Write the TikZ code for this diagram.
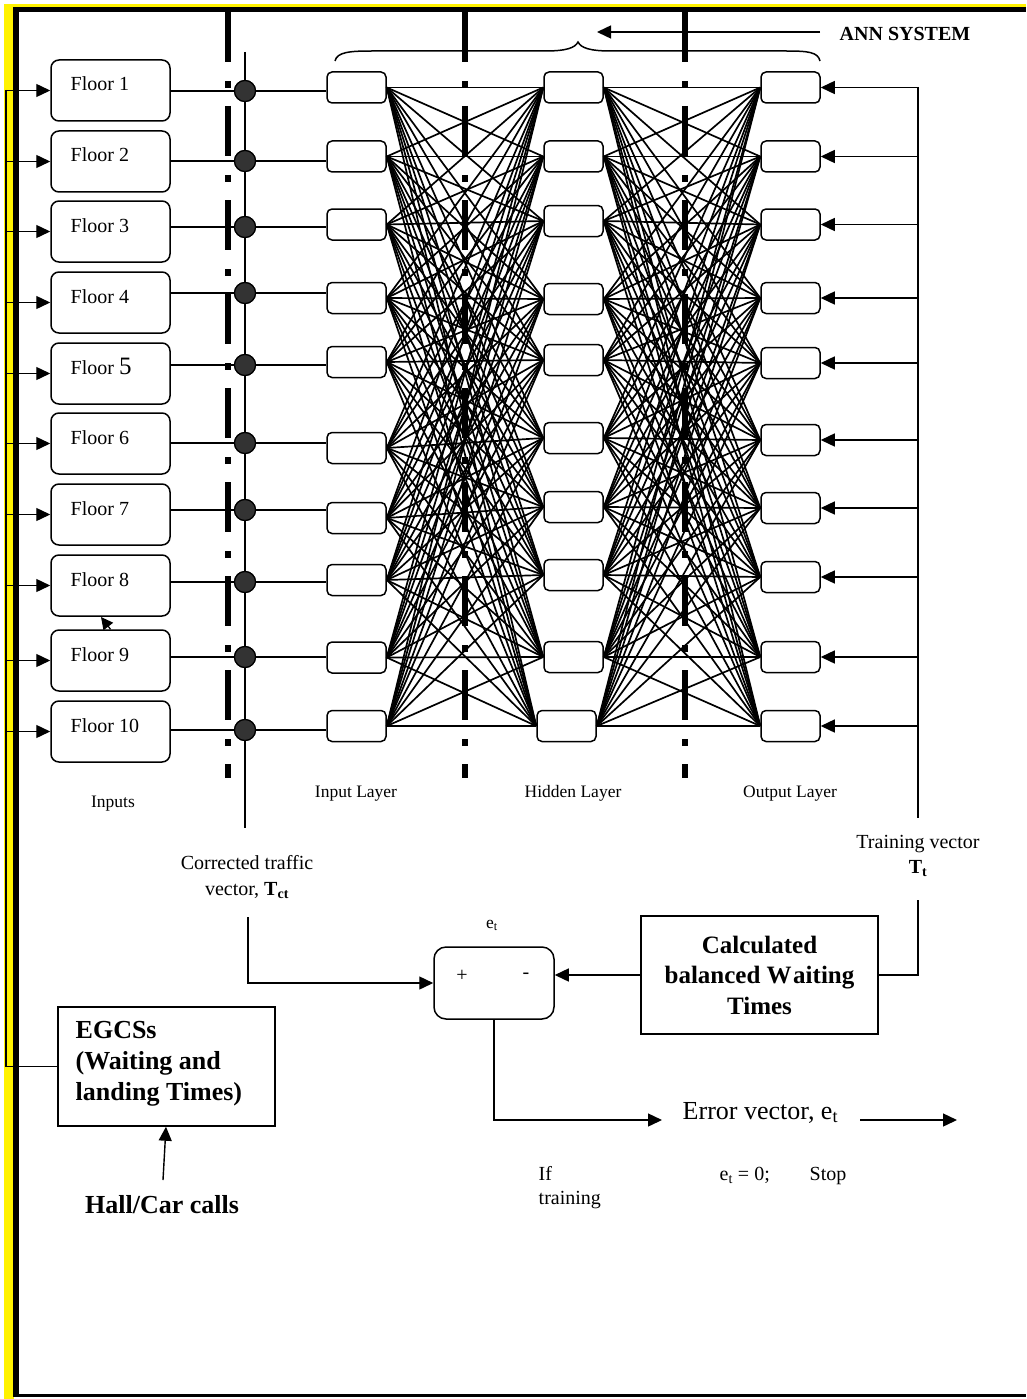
\documentclass[tikz,border=0pt]{standalone}
\usepackage{fontspec}
\setmainfont{Liberation Serif}
\usetikzlibrary{arrows.meta,calc}
\begin{document}
\begin{tikzpicture}[x=1pt,y=-1pt,line width=1.4pt,
  floorbox/.style={draw,rounded corners=8pt,minimum width=119pt,minimum height=61pt,inner sep=0pt,line width=1.5pt},
  neuron/.style={draw,rounded corners=5pt,minimum width=59pt,minimum height=31pt,inner sep=0pt,line width=1.5pt},
  junction/.style={circle,draw,fill=black!80,minimum size=21pt,inner sep=0pt,line width=1.2pt},
  tip/.style={-{Triangle[length=14pt,width=13pt]}},
  dashdot/.style={line width=6pt,dash pattern=on 50pt off 19pt on 7pt off 18pt},
  flabel/.style={anchor=base west,inner sep=0pt,font=\fontsize{20}{24}\selectfont},
  txt/.style={inner sep=0pt,font=\fontsize{20}{26}\selectfont,align=center},
  small/.style={inner sep=0pt,font=\fontsize{17.5}{21}\selectfont,anchor=base},
  boldbig/.style={inner sep=0pt,font=\bfseries\fontsize{25}{30.5}\selectfont},
]
\useasboundingbox (0,0) rectangle (1026,1399);
% frame
\fill[yellow] (4,4) rectangle (14,1399);
\fill[yellow] (4,4) rectangle (1026,7);
\fill[black] (13,7) rectangle (19,1397);
\fill[black] (13,7) rectangle (1026,12);
\fill[black] (13,1394) rectangle (1026,1397);

% dash-dot separators
\foreach \x/\n in {228/a,465/b,685/c}{
  \coordinate (sep\n t) at (\x,12);
  \coordinate (sep\n b) at (\x,778);
  \draw[dashdot] (sep\n t) -- (sep\n b);
}

% floors
\foreach \i/\t in {1/60,2/131,3/201,4/272,5/343,6/413,7/484,8/555,9/630,10/701}{
  \node[floorbox] (fl\i) at (110.5,\t+30.5) {};
}
\foreach \i/\t in {1/60,2/131,3/201,4/272,6/413,7/484,8/555,9/630,10/701}{
  \node[flabel] (flt\i) at (70,\t+31) {Floor \i};
}
\node[flabel] (flt5) at (70,343+31) {Floor {\fontsize{25}{25}\selectfont 5}};

% bus line and junctions
\coordinate (bust) at (245,52);
\coordinate (busb) at (245,828);
\draw[line width=1.5pt] (bust) -- (busb);
\foreach \i/\d in {1/91,2/161,3/227,4/293,5/365,6/443,7/510,8/582,9/657,10/730}{
  \node[junction] (j\i) at (245,\d) {};
}

% neurons
\foreach \i/\y in {1/87.5,2/156.5,3/224.5,4/298,5/362,6/448,7/518,8/580,9/657.5,10/726}{
  \node[neuron,fill=white] (in\i) at (356.5,\y) {};
}
\foreach \i/\x/\y in {1/573.5/87.5,2/573.5/156.5,3/573.5/221,4/573.5/299,5/573.5/360,6/573.5/438,7/573.5/507,8/573.5/575,9/573.5/657,10/566.5/726}{
  \node[neuron,fill=white] (hid\i) at (\x,\y) {};
}
\foreach \i/\y in {1/87.5,2/156.5,3/224.5,4/298,5/363,6/440,7/508,8/577,9/657,10/726}{
  \node[neuron,fill=white] (out\i) at (790.5,\y) {};
}

% full connections
\foreach \i in {1,...,10}{
  \foreach \j in {1,...,10}{
    \draw[line width=1.7pt] (in\i.east) -- (hid\j.west);
    \draw[line width=1.7pt] (hid\i.east) -- (out\j.west);
  }
}

% floor -> junction -> input
\foreach \i in {1,...,10}{
  \draw (fl\i.east |- j\i) -- (j\i.west);
  \draw (j\i.east) -- (j\i -| in\i.west);
}
\foreach \i in {1,...,10}{
  \node[junction] at (j\i) {};
}

% feed line on the left
\coordinate (feedt) at (6,90);
\node[draw,line width=1.5pt,minimum width=217pt,minimum height=119pt,inner sep=0pt] (egcs) at (166.5,1066.5) {};
\node[inner sep=0pt,anchor=north west,font=\bfseries\fontsize{26}{31}\selectfont,align=left] (egcst) at (75,1021) {EGCSs\\(Waiting and\\landing Times)};
\draw (feedt) |- (egcs.west);
\foreach \i in {1,...,10}{
  \draw[tip] (fl\i.west -| feedt) -- (fl\i.west);
}
% small arrow floor 9 -> floor 8
\coordinate (f8arr) at (101,617);
\draw[-{Triangle[length=12pt,width=12pt]},line width=1.3pt] (fl9.north) -- (f8arr);

% Hall/Car calls
\node[inner sep=0pt,anchor=base,font=\bfseries\fontsize{26}{31}\selectfont] (hall) at (162,1213) {Hall/Car calls};
\coordinate (hallt) at (163,1180);
\draw[tip] (hallt) -- (egcs.south -| 166,0);

% brace and ANN system
\coordinate (brl) at (335,61);
\coordinate (brr) at (820,61);
\draw[line width=1.5pt] (brl) .. controls (337,52) and (350,51) .. (372,51) -- (545,51)
  .. controls (566,51) and (575,48) .. (578,42)
  .. controls (581,48) and (590,51) .. (611,51) -- (786,51)
  .. controls (808,51) and (818,52) .. (brr);
\coordinate (anns) at (820,32);
\coordinate (anne) at (597,32);
\draw[tip,line width=1.5pt] (anns) -- (anne);
\node[inner sep=0pt,font=\bfseries\fontsize{20}{24}\selectfont] (ann) at (905,34) {ANN SYSTEM};

% training vector line
\coordinate (trt) at (918,87);
\coordinate (trb) at (918,818);
\draw[line width=2.2pt] (trt) -- (trb);
\foreach \i in {1,...,10}{
  \draw[tip] (out\i.east -| trt) -- (out\i.east);
}
\node[txt,anchor=base] (trv) at (918,848) {Training vector};
\node[txt,anchor=base] (trvt) at (918,873) {\textbf{T}\textsubscript{\textbf{t}}};

% layer labels
\node[small] (linp) at (113,807) {Inputs};
\node[small] (lin) at (356,797) {Input Layer};
\node[small] (lhid) at (573,797) {Hidden Layer};
\node[small] (lout) at (790,797) {Output Layer};

% corrected traffic
\node[txt,anchor=base] (ct1) at (247,869) {Corrected traffic};
\node[txt,anchor=base] (ct2) at (247,895) {vector, \textbf{T}\textsubscript{\textbf{ct}}};

% comparator
\node[draw,line width=1.5pt,rounded corners=12pt,minimum width=120pt,minimum height=72pt,inner sep=0pt] (plus) at (494,983) {};
\node[inner sep=0pt,font=\fontsize{20}{24}\selectfont] (pl) at (462,976) {+};
\node[inner sep=0pt,font=\fontsize{20}{24}\selectfont] (mi) at (526,976) {-};
\node[small] (et) at (492,928) {e\textsubscript{t}};

% calculated balanced waiting times
\node[draw,line width=1.5pt,minimum width=237pt,minimum height=118pt,inner sep=0pt,align=center,boldbig] (calc) at (759.5,975) {Calculated\\balanced W\kern1.5pt aiting\\Times};
\coordinate (tvs) at (918,900);
\draw (tvs) |- (calc.east);
\draw[tip] (calc.west) -- (calc.west -| plus.east);
\coordinate (cts) at (248,917);
\draw[tip] (cts) |- (plus.west);

% error vector
\node[inner sep=0pt,anchor=base west,font=\fontsize{26}{30}\selectfont] (err) at (682,1119) {Error vector, e\textsubscript{t}};
\coordinate (e1) at (662,1120);
\draw[tip] (plus.south) |- (e1);
\coordinate (e2s) at (860,1120);
\coordinate (e2e) at (957,1120);
\draw[tip] (e2s) -- (e2e);

\node[inner sep=0pt,anchor=base west,font=\fontsize{20}{24}\selectfont] (ift) at (538,1180) {If};
\node[inner sep=0pt,anchor=base west,font=\fontsize{20}{24}\selectfont] (trn) at (538,1204) {training};
\node[inner sep=0pt,anchor=base west,font=\fontsize{20}{24}\selectfont] (eq) at (719,1180) {e\textsubscript{t} = 0;};
\node[inner sep=0pt,anchor=base west,font=\fontsize{20}{24}\selectfont] (stop) at (809,1180) {Stop};
\end{tikzpicture}
\end{document}
